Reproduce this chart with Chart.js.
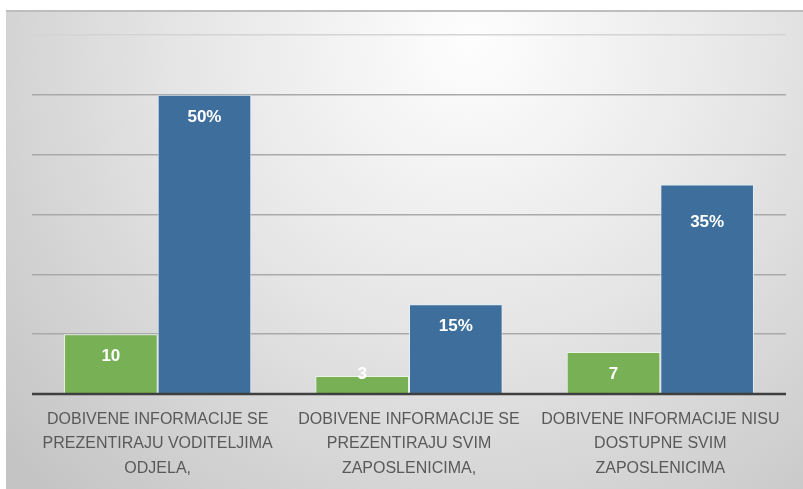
<!DOCTYPE html>
<html>
<head>
<meta charset="utf-8">
<script src="https://cdn.jsdelivr.net/npm/chart.js@4.4.1/dist/chart.umd.min.js"></script>
<style>
  html, body { margin: 0; padding: 0; background: #ffffff; }
  #wrap { width: 803px; height: 489px; position: relative; }
</style>
</head>
<body>
<div id="wrap"><canvas id="chart"></canvas></div>
<script>
// categories and values
const categories = [
    ["DOBIVENE INFORMACIJE SE", "PREZENTIRAJU VODITELJIMA", "ODJELA,"],
    ["DOBIVENE INFORMACIJE SE", "PREZENTIRAJU SVIM", "ZAPOSLENICIMA,"],
    ["DOBIVENE INFORMACIJE NISU", "DOSTUPNE SVIM", "ZAPOSLENICIMA"]
];
const countValues = [10, 3, 7];
const percentValues = [50, 15, 35];
const yTicks = [0, 10, 20, 30, 40, 50, 60];

// grey panel behind the chart, lighter towards the top middle
const panelBackground = {
    id: "panelBackground",
    beforeDraw(chart) {
        const ctx = chart.ctx;
        const w = chart.width, h = chart.height;
        ctx.save();
        const g = ctx.createRadialGradient(470, 40, 10, 470, 40, 620);
        g.addColorStop(0, "#fdfdfd");
        g.addColorStop(0.45, "#e6e6e6");
        g.addColorStop(1, "#c4c4c4");
        ctx.fillStyle = g;
        ctx.fillRect(6, 10, w - 6, h - 10);
        ctx.fillStyle = "#bdbdbd";
        ctx.fillRect(6, 10, w - 6, 2);
        ctx.restore();
    }
};

// zero line on top of the bars, then the value labels
const barLabels = {
    id: "barLabels",
    afterDatasetsDraw(chart) {
        const ctx = chart.ctx;
        const y = chart.scales.y;
        const area = chart.chartArea;
        const base = y.getPixelForValue(0);
        ctx.save();
        ctx.strokeStyle = "#3f3f3f";
        ctx.lineWidth = 2.5;
        ctx.beginPath();
        ctx.moveTo(area.left, base);
        ctx.lineTo(area.right, base);
        ctx.stroke();

        ctx.font = "bold 17px 'Liberation Sans', Arial, sans-serif";
        ctx.fillStyle = "#ffffff";
        ctx.textAlign = "center";
        ctx.textBaseline = "middle";
        chart.data.datasets.forEach((ds, i) => {
            const meta = chart.getDatasetMeta(i);
            meta.data.forEach((bar, j) => {
                const shift = (ds.labelShift && ds.labelShift[j]) || 0;
                const ly = Math.min(bar.y + 22, base - 20) + shift;
                ctx.fillText(ds.data[j] + (ds.suffix || ""), bar.x, ly);
            });
        });
        ctx.restore();
    }
};

new Chart(document.getElementById("chart").getContext("2d"), {
    type: "bar",
    data: {
        labels: categories,
        datasets: [{
            data: countValues,
            backgroundColor: "#78b155",
            borderColor: "rgba(235,245,230,0.9)",
            borderWidth: { top: 1, left: 1, right: 1, bottom: 0 },
            suffix: ""
        }, {
            data: percentValues,
            backgroundColor: "#3e6f9c",
            borderColor: "rgba(225,238,250,0.9)",
            borderWidth: { top: 1, left: 1, right: 1, bottom: 0 },
            suffix: "%",
            labelShift: [0, 0, 16]
        }]
    },
    options: {
        responsive: true,
        maintainAspectRatio: false,
        animation: false,
        categoryPercentage: 0.745,
        barPercentage: 1.0,
        layout: { padding: { left: 32, right: 17, top: 35, bottom: 0 } },
        plugins: {
            legend: { display: false },
            tooltip: { enabled: false }
        },
        scales: {
            x: {
                grid: { display: false, drawTicks: false },
                border: { display: false },
                afterFit(scale) {
                    scale.height = 95;
                },
                ticks: {
                    color: "#595959",
                    font: { family: "'Liberation Sans', Arial, sans-serif", size: 16, lineHeight: 1.53 },
                    padding: 13,
                    maxRotation: 0,
                    autoSkip: false
                }
            },
            y: {
                min: yTicks[0],
                max: yTicks[yTicks.length - 1],
                afterBuildTicks(scale) {
                    scale.ticks = yTicks.map(v => ({ value: v }));
                },
                ticks: { display: false },
                border: { display: false },
                grid: {
                    drawTicks: false,
                    color: ctx => ctx.tick.value === 60 ? "#d4d4d4" : "#a9a9a9",
                    lineWidth: 1.5
                }
            }
        }
    },
    plugins: [panelBackground, barLabels]
});
</script>
</body>
</html>
